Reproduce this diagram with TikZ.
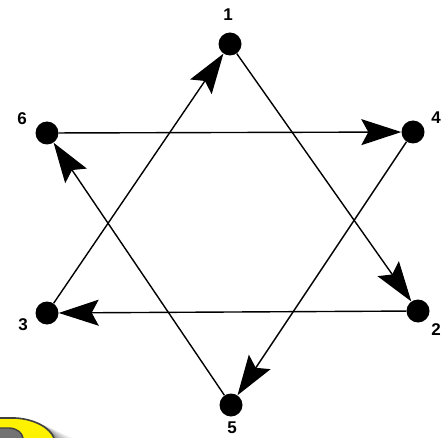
\documentclass[tikz,border=0pt]{standalone}
\usepackage{fontspec}
\setmainfont{Liberation Sans}
\usetikzlibrary{arrows.meta}
\begin{document}
\begin{tikzpicture}[x=1pt,y=-1pt,
  vtx/.style={circle,fill=black,minimum size=23pt,inner sep=0pt},
  lbl/.style={font=\fontsize{17}{17}\selectfont\bfseries,inner sep=0pt},
  edge/.style={line width=1.4pt,-{Stealth[length=40pt,width=26pt,inset=7pt]}}]
\useasboundingbox (0,0) rectangle (441,438);
% decorative yellow shape at bottom-left
\foreach \d/\o in {18/0.06,14/0.08,10/0.1,6/0.12,3/0.15}{
  \fill[black,opacity=\o] (0,418) -- (15,418) .. controls (35,419) and (50,428) .. (54+\d,438) -- (0,438) -- cycle;
}
\fill[yellow] (0,418) -- (15,418) .. controls (35,419) and (50,428) .. (54,438) -- (0,438) -- cycle;
\draw[black!75,line width=1.6pt] (0,418) -- (15,418) .. controls (35,419) and (50,428) .. (54,438);
\fill[black!55] (0,428) -- (10,428) .. controls (18,429) and (22,433) .. (23,438) -- (0,438) -- cycle;
\draw[black!75,line width=1.4pt] (0,428) -- (10,428) .. controls (18,429) and (22,433) .. (23,438);
% vertices
\node[vtx] (n1) at (230,44) {};
\node[vtx] (n4) at (413,132) {};
\node[vtx] (n2) at (418,311) {};
\node[vtx] (n5) at (231,405) {};
\node[vtx] (n3) at (47,313) {};
\node[vtx] (n6) at (47,133) {};
% labels
\node[lbl] (l1) at (228,15) {1};
\node[lbl] (l4) at (436,118) {4};
\node[lbl] (l2) at (436,330) {2};
\node[lbl] (l5) at (232,428) {5};
\node[lbl] (l3) at (23,325) {3};
\node[lbl] (l6) at (22,119) {6};
% edges
\draw[edge] (n1) -- (n2);
\draw[edge] (n2) -- (n3);
\draw[edge] (n3) -- (n1);
\draw[edge] (n6) -- (n4);
\draw[edge] (n4) -- (n5);
\draw[edge] (n5) -- (n6);
\end{tikzpicture}
\end{document}
